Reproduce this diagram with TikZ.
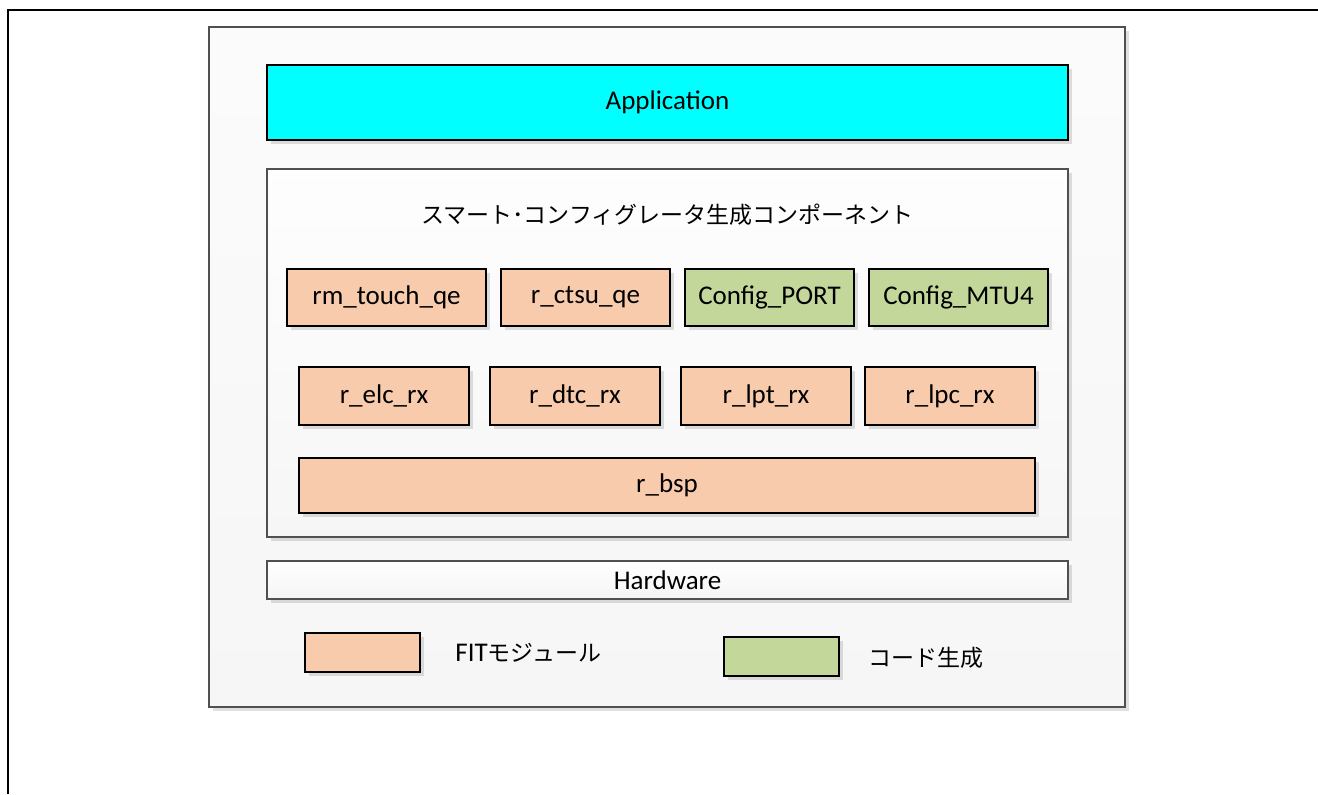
\documentclass[tikz,border=0pt]{standalone}
\usepackage{fontspec}
\setmainfont{Carlito}
\newfontfamily\jp{Noto Sans CJK JP}
\usepackage{tikz}
\usetikzlibrary{shadows}
\usepackage{xcolor}
\definecolor{appcyan}{HTML}{00FFFF}
\definecolor{fitorange}{HTML}{F8CBAD}
\definecolor{gengreen}{HTML}{C4D79B}
\definecolor{framegray}{HTML}{505050}

\begin{document}
\begin{tikzpicture}[x=0.5pt,y=-0.5pt,
  every node/.style={font=\fontsize{13.5pt}{15pt}\selectfont, inner sep=0pt},
  jptext/.style={font=\jp\fontsize{11.5pt}{14pt}\selectfont},
  shade/.style={drop shadow={shadow xshift=2pt, shadow yshift=-2pt, opacity=0.12, fill=black}},
  panel/.style={draw=framegray, line width=1pt, shade},
  fitbox/.style={draw=black, line width=1pt, fill=fitorange, shade},
  genbox/.style={draw=black, line width=1pt, fill=gengreen, shade}]
\useasboundingbox (0,0) rectangle (1318,794);
% page frame
\draw [line width=1pt] (8,794) -- (8,10) -- (1318,10);

% outer panel
\node (outer) [panel, top color=white!97!gray, bottom color=white!93!gray,
  minimum width=458pt, minimum height=340pt] at (667,367) {};
\node (app) [draw=black, line width=1pt, fill=appcyan, shade,
  minimum width=400.5pt, minimum height=37.5pt] at (667.5,102.5) {Application};
\node (smart) [panel, top color=white!99!gray, bottom color=white!93!gray,
  minimum width=400.5pt, minimum height=184pt] at (667.5,353) {};
\node (title) [jptext] at (667.5,215) {スマート･コンフィグレータ生成コンポーネント};

% first row
\node (touch) [fitbox, minimum width=99.5pt, minimum height=28.5pt] at (386.5,297.5) {rm\_touch\_qe};
\node (ctsu) [fitbox, minimum width=84.5pt, minimum height=28.5pt] at (585.5,297.5) {r\_ctsu\_qe};
\node (port) [genbox, minimum width=84.5pt, minimum height=28.5pt] at (769.5,297.5) {Config\_PORT};
\node (mtu) [genbox, minimum width=89.5pt, minimum height=28.5pt] at (958.5,297.5) {Config\_MTU4};

% second row
\node (elc) [fitbox, minimum width=85pt, minimum height=29pt] at (384,396) {r\_elc\_rx};
\node (dtc) [fitbox, minimum width=85pt, minimum height=29pt] at (575,396) {r\_dtc\_rx};
\node (lpt) [fitbox, minimum width=85pt, minimum height=29pt] at (766,396) {r\_lpt\_rx};
\node (lpc) [fitbox, minimum width=85pt, minimum height=29pt] at (950,396) {r\_lpc\_rx};

\node (bsp) [fitbox, minimum width=368pt, minimum height=27.5pt] at (667,485.5) {r\_bsp};

\node (hw) [panel, top color=white, bottom color=white!92!gray,
  minimum width=400.5pt, minimum height=19pt] at (667.5,580) {Hardware};

% legend
\node (fitkey) [fitbox, minimum width=57.5pt, minimum height=19.5pt] at (362.5,652.5) {};
\node (fittext) [anchor=west] at (455,653) {FIT{\jp\fontsize{11.5pt}{14pt}\selectfont モジュール}};
\node (genkey) [genbox, minimum width=57.5pt, minimum height=19.5pt] at (781.5,656.5) {};
\node (gentext) [jptext, anchor=west] at (868,658) {コード生成};
\end{tikzpicture}
\end{document}
